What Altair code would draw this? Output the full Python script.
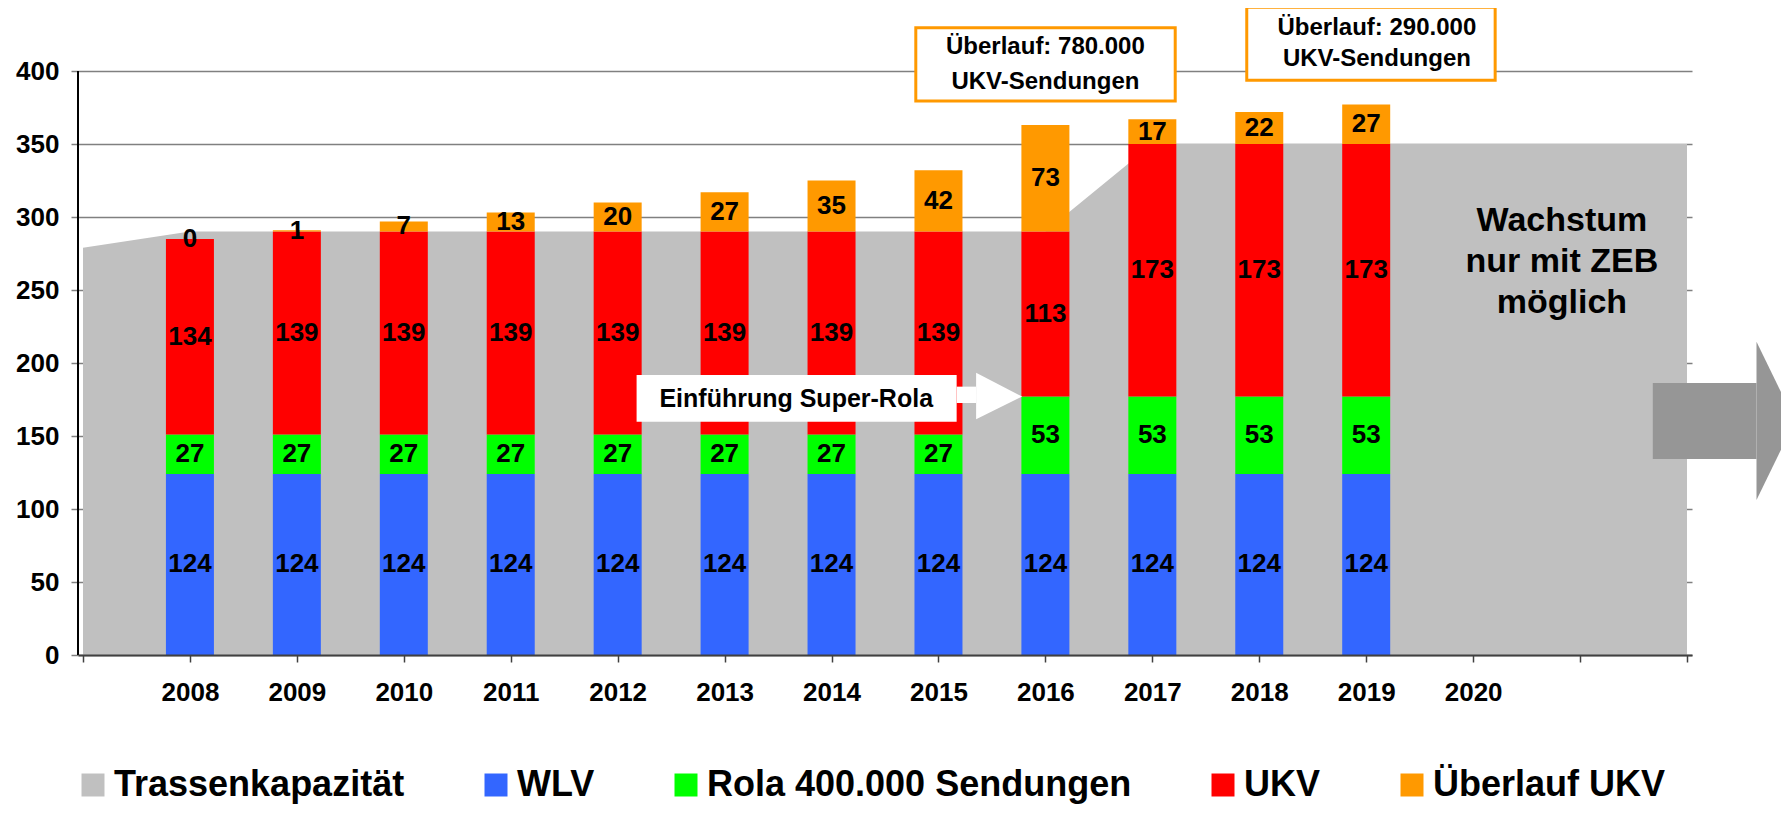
import altair as alt
import pandas as pd

# ---------------- data ----------------
years = [2008, 2009, 2010, 2011, 2012, 2013, 2014, 2015, 2016, 2017, 2018, 2019]
wlv = [124, 124, 124, 124, 124, 124, 124, 124, 124, 124, 124, 124]
rola = [27, 27, 27, 27, 27, 27, 27, 27, 53, 53, 53, 53]
ukv = [134, 139, 139, 139, 139, 139, 139, 139, 113, 173, 173, 173]
ueberlauf = [0, 1, 7, 13, 20, 27, 35, 42, 73, 17, 22, 27]

cap_years = [2007, 2008, 2009, 2010, 2011, 2012, 2013, 2014, 2015, 2016,
             2017, 2018, 2019, 2020, 2021, 2022]
capacity = [279, 290, 290, 290, 290, 290, 290, 290, 290, 290,
            350, 350, 350, 350, 350, 350]

series_names = ["Trassenkapazität", "WLV", "Rola 400.000 Sendungen", "UKV", "Überlauf UKV"]
series_colors = ["#C0C0C0", "#3366FF", "#00FF00", "#FF0000", "#FF9900"]

tick_years = list(range(2007, 2023))
y_ticks = [0, 50, 100, 150, 200, 250, 300, 350, 400]

box_lines = ["Überlauf: 780.000", "UKV-Sendungen", "Überlauf: 290.000", "UKV-Sendungen"]
callout_text = "Einführung Super-Rola"
growth_text = "Wachstum\nnur mit ZEB\nmöglich"

# ---------------- tables ----------------
rows = []
for i, yr in enumerate(years):
    for rank, vals in enumerate([wlv, rola, ukv, ueberlauf]):
        rows.append({"x": yr, "series": series_names[rank + 1], "value": vals[i], "rank": rank})
bars_df = pd.DataFrame(rows)

area_df = pd.DataFrame({"x": cap_years, "y": capacity, "series": series_names[0]})

# annotation placement (in data units of the chart's scales)
callout_rects = pd.DataFrame({"x": [2012.177, 2015.17], "x2": [2015.17, 2015.352],
                              "y": [159.8, 172.6], "y2": [191.8, 183.8]})
callout_tri = pd.DataFrame({"x": [2015.352, 2015.782], "y": [161.4, 177.0], "y2": [193.4, 177.0]})
callout_lbl = pd.DataFrame({"x": [2013.67], "y": [175.3], "t": [callout_text]})

boxes = pd.DataFrame({"x": [2014.788, 2017.883], "x2": [2017.214, 2020.206],
                      "y": [379.5, 393.6], "y2": [429.6, 443.6]})
box_text = pd.DataFrame({"x": [2016.0, 2016.0, 2019.1, 2019.1],
                         "y": [416.6, 392.7, 429.5, 408.0], "t": box_lines})

growth_lbl = pd.DataFrame({"x": [2020.83], "y": [290.4], "t": [growth_text]})

arrow_rect = pd.DataFrame({"x": [2021.68], "x2": [2022.65], "y": [134.2], "y2": [186.3]})
arrow_tri = pd.DataFrame({"x": [2022.65, 2023.01], "y": [106.2, 160.3], "y2": [214.6, 160.3]})

# ---------------- scales / axes ----------------
W, H = 1614, 584
xscale = alt.Scale(domain=[2007, 2022], nice=False, zero=False)
yscale = alt.Scale(domain=[0, 400], nice=False)

xaxis = alt.Axis(values=tick_years,
                 labelExpr="(datum.value >= 2008 && datum.value <= 2020) ? '' + datum.value : ''",
                 grid=False, domainColor="#404040", domainWidth=2,
                 tickColor="#404040", tickWidth=1.5, tickSize=7,
                 labelFontSize=26, labelFontWeight="bold", labelColor="black",
                 labelPadding=17, labelOverlap=False, labelFlush=False, zindex=1)
yaxis = alt.Axis(values=y_ticks, grid=True, gridColor="#808080", gridWidth=1.5,
                 domain=False, tickColor="#808080", tickWidth=1.5, tickSize=7,
                 labelFontSize=26, labelFontWeight="bold", labelColor="black",
                 labelPadding=12)


def X(f="x"):
    return alt.X(f"{f}:Q", scale=xscale, axis=xaxis, title=None)


def Y(f="y"):
    return alt.Y(f"{f}:Q", scale=yscale, axis=yaxis, title=None)


color = alt.Color("series:N",
                  scale=alt.Scale(domain=series_names, range=series_colors),
                  title=None,
                  legend=alt.Legend(orient="none", legendX=-3, legendY=696,
                                    direction="horizontal", columns=5,
                                    symbolType="square", symbolSize=529,
                                    symbolStrokeWidth=0, symbolOpacity=1,
                                    labelFontSize=36, labelFontWeight="bold",
                                    labelColor="black", labelOffset=3,
                                    columnPadding=73, labelLimit=1000, padding=0))

# ---------------- layers ----------------
area = alt.Chart(area_df).mark_area(opacity=1, orient="vertical").encode(
    x=X(), y=alt.Y("y:Q", scale=yscale, axis=yaxis, title=None, stack=None), color=color)

stacked = alt.Chart(bars_df).transform_stack(
    stack="value", groupby=["x"], as_=["y", "y2"],
    sort=[alt.SortField("rank", order="ascending")])

bars = stacked.mark_bar(size=48).encode(x=X(), y=Y(), y2="y2:Q", color=color)

labels = stacked.transform_calculate(ym="(datum.y + datum.y2) / 2").mark_text(
    fontSize=26, fontWeight="bold", color="black", baseline="middle", align="center"
).encode(x=X(), y=Y("ym"), text="value:Q")

yline = alt.Chart(area_df).mark_rule(color="black", strokeWidth=1.5).encode(
    x=alt.value(0), y=alt.value(0), y2=alt.value(H))

c_rect = alt.Chart(callout_rects).mark_rect(color="white").encode(
    x=X(), x2="x2:Q", y=Y(), y2="y2:Q")
c_tri = alt.Chart(callout_tri).mark_area(color="white", opacity=1, orient="vertical").encode(
    x=X(), y=Y(), y2="y2:Q")
c_txt = alt.Chart(callout_lbl).mark_text(
    fontSize=25, fontWeight="bold", color="black", align="center", baseline="middle"
).encode(x=X(), y=Y(), text="t:N")

b_rect = alt.Chart(boxes).mark_rect(fill="white", stroke="#FF9900", strokeWidth=3).encode(
    x=X(), x2="x2:Q", y=Y(), y2="y2:Q")
b_txt = alt.Chart(box_text).mark_text(
    fontSize=24, fontWeight="bold", color="black", align="center", baseline="middle"
).encode(x=X(), y=Y(), text="t:N")

g_txt = alt.Chart(growth_lbl).mark_text(
    fontSize=34, fontWeight="bold", color="black", align="center",
    baseline="alphabetic", lineBreak="\n", lineHeight=41
).encode(x=X(), y=Y(), text="t:N")

a_rect = alt.Chart(arrow_rect).mark_rect(color="#969696").encode(
    x=X(), x2="x2:Q", y=Y(), y2="y2:Q")
a_tri = alt.Chart(arrow_tri).mark_area(color="#969696", opacity=1, orient="vertical").encode(
    x=X(), y=Y(), y2="y2:Q")

chart = alt.layer(
    area, bars, labels, yline, c_rect, c_tri, c_txt, b_rect, b_txt, g_txt, a_rect, a_tri
).resolve_scale(color="shared").properties(
    width=W, height=H,
    autosize=alt.AutoSizeParams(type="none"),
    padding={"left": 70, "top": 63, "right": 89, "bottom": 153},
).configure(font="Liberation Sans").configure_view(stroke=None)

chart.save("out.html", embed_options={"renderer": "svg", "actions": False})
